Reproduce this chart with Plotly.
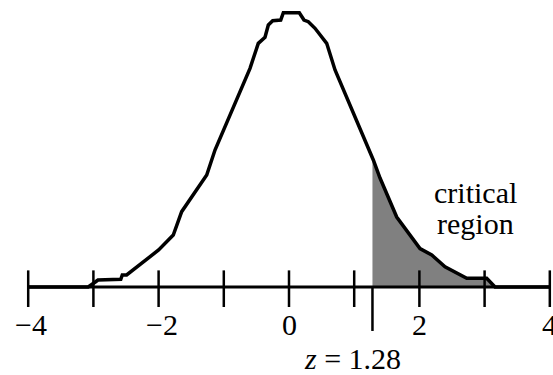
import numpy as np
import plotly.graph_objects as go

# Hand-traced standard normal curve (z, density)
curve_z = [-4.0, -3.08, -2.965, -2.93, -2.58, -2.557, -2.49, -2.00, -1.775, -1.646,
           -1.262, -1.135, -0.598, -0.471, -0.368, -0.317, -0.25, -0.127, -0.087,
           0.158, 0.23, 0.296, 0.399, 0.502, 0.578, 0.706, 1.293, 1.396, 1.652,
           2.009, 2.189, 2.393, 2.726, 3.032, 3.16, 4.0]
curve_y = [0.0, 0.0, 0.0077, 0.0102, 0.0112, 0.0175, 0.0175, 0.0539, 0.0757, 0.1097,
           0.1630, 0.1994, 0.3183, 0.3547, 0.3635, 0.3814, 0.3876, 0.3886, 0.3993,
           0.3993, 0.3886, 0.3862, 0.3766, 0.3629, 0.3547, 0.3159, 0.1849, 0.1586,
           0.1019, 0.0559, 0.0466, 0.0295, 0.0126, 0.0126, 0.0, 0.0]

tick_values = [-4, -3, -2, -1, 0, 1, 2, 3, 4]
label_values = [-4, -2, 0, 2, 4]
label_texts = ["\u22124", "\u22122", "0", "2", "4"]
z_crit = 1.28

cz = np.array(curve_z)
cy = np.array(curve_y)

# Critical region: area under the curve to the right of z_crit
mask = cz > z_crit
y_at_crit = float(np.interp(z_crit, cz, cy))
fill_x = [z_crit, z_crit] + list(cz[mask]) + [z_crit]
fill_y = [0.0, y_at_crit] + list(cy[mask]) + [0.0]

fig = go.Figure()
fig.add_trace(go.Scatter(x=fill_x, y=fill_y, fill="toself", mode="none",
                         fillcolor="#808080", hoverinfo="skip"))
fig.add_trace(go.Scatter(x=curve_z, y=curve_y, mode="lines",
                         line=dict(color="black", width=3.5), hoverinfo="skip"))

shapes = []
# horizontal axis line
shapes.append(dict(type="line", x0=tick_values[0], x1=tick_values[-1], y0=0, y1=0,
                   line=dict(color="black", width=2.8)))
for t in tick_values:
    shapes.append(dict(type="line", x0=t, x1=t, y0=-0.0291, y1=0.0242,
                       line=dict(color="black", width=2.5)))
shapes.append(dict(type="line", x0=z_crit, x1=z_crit, y0=-0.064, y1=0,
                   line=dict(color="black", width=2.5)))

font = dict(family="Liberation Serif", size=30, color="black")
annotations = []
for v, txt in zip(label_values, label_texts):
    annotations.append(dict(x=v, y=-0.0553, text=txt, showarrow=False, font=font,
                            xanchor="center", yanchor="middle",
                            xshift=3 if v < 0 else 0))
annotations.append(dict(x=z_crit, y=-0.1048, text="<i>z</i> = 1.28", showarrow=False,
                        font=font, xanchor="center", yanchor="middle", xshift=-20))
annotations.append(dict(x=2.853, y=0.137, text="critical", showarrow=False,
                        font=font, xanchor="center", yanchor="middle"))
annotations.append(dict(x=2.853, y=0.093, text="region", showarrow=False,
                        font=font, xanchor="center", yanchor="middle"))

fig.update_layout(
    width=553, height=375,
    margin=dict(l=0, r=0, t=0, b=0),
    paper_bgcolor="white", plot_bgcolor="white",
    showlegend=False,
    xaxis=dict(range=[-4.4325, 4.049], visible=False, fixedrange=True),
    yaxis=dict(range=[-0.1281, 0.4178], visible=False, fixedrange=True),
    shapes=shapes,
    annotations=annotations,
)

fig.write_html("out.html")
